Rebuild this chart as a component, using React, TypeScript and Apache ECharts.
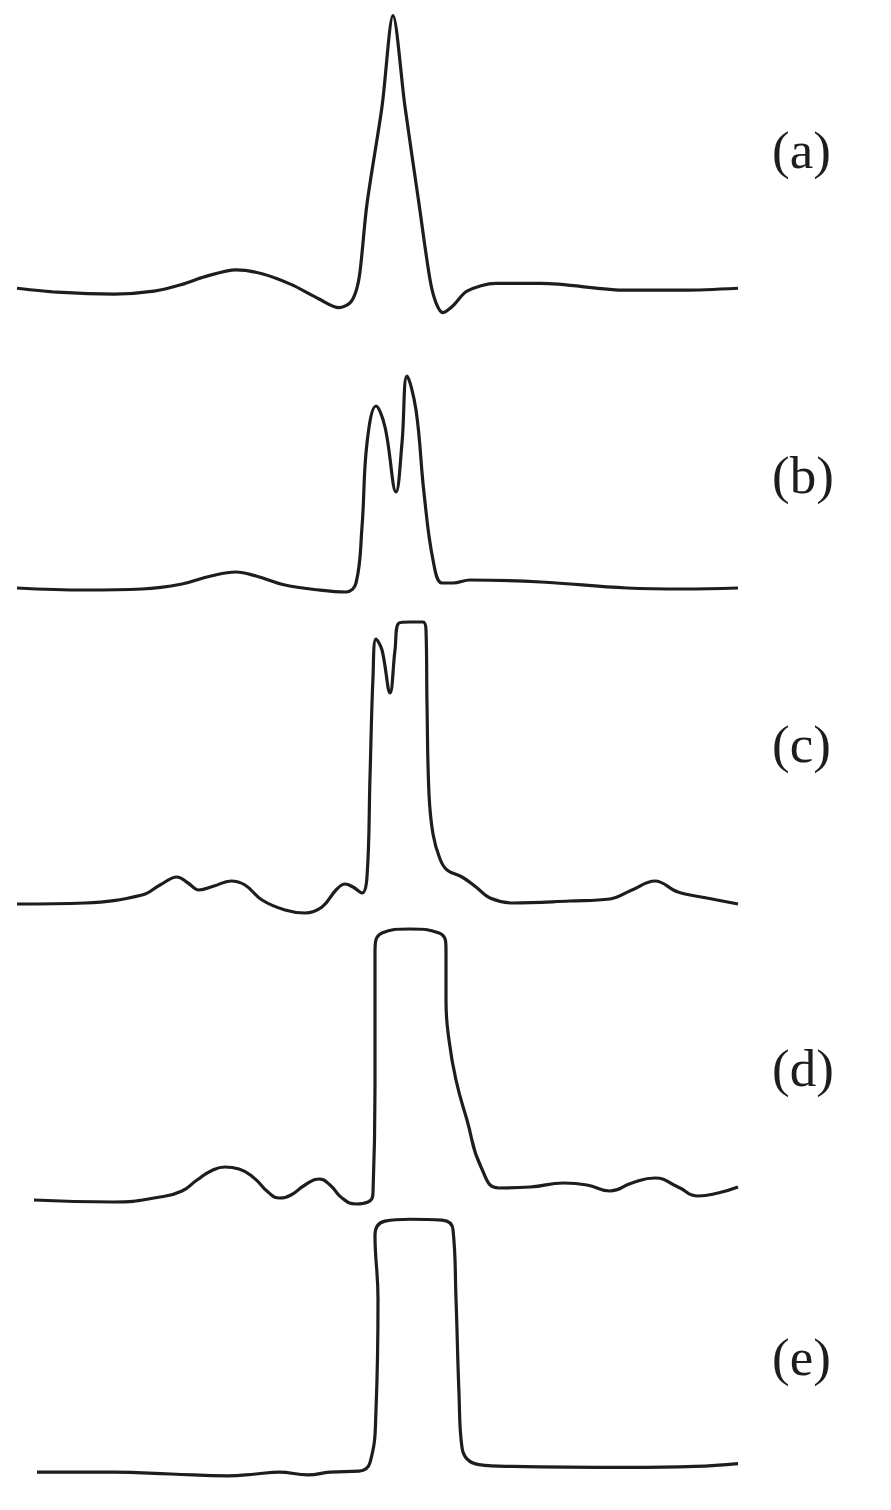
import React, { useEffect, useRef } from "react";
import * as echarts from "echarts";

// Each trace: [x position, amplitude above its own baseline]
const traceA: number[][] = [
  [17, 3], [57, -1], [114, -3], [154, 0], [182, 7], [205, 15], [236, 22], [262, 18], [291, 7],
  [319, -8], [339, -17], [350, -12], [356, 0], [360, 20], [367, 90], [382, 190], [393, 284],
  [405, 190], [419, 90], [430, 12], [436, -12], [443, -22], [453, -15], [467, 0], [496, 8],
  [541, 8], [627, 1], [684, 1], [738, 3],
];
const traceB: number[][] = [
  [17, 0], [85, -2], [142, -1], [182, 4], [211, 12], [236, 16], [256, 12], [285, 3], [319, -2],
  [346, -4], [356, 5], [362, 61], [367, 145], [376, 182], [385, 161], [396, 96], [402, 145],
  [407, 212], [416, 178], [424, 95], [433, 28], [442, 5], [453, 5], [470, 8], [541, 6],
  [627, 0], [684, -1], [738, 0],
];
const traceC: number[][] = [
  [17, 0], [85, 1], [142, 9], [160, 19], [177, 27], [188, 21], [199, 14], [214, 18], [231, 23],
  [245, 19], [262, 4], [285, -6], [305, -9], [322, -3], [336, 14], [345, 20], [353, 17],
  [362, 11], [367, 27], [370, 127], [373, 227], [376, 265], [382, 254], [390, 211], [395, 254],
  [399, 281], [410, 282], [423, 282], [426, 274], [427, 200], [429, 110], [433, 70], [440, 45],
  [447, 34], [462, 27], [476, 17], [490, 6], [513, 1], [570, 3], [610, 5], [632, 14], [655, 23],
  [678, 12], [707, 6], [738, 0],
];
const traceD: number[][] = [
  [34, 0], [114, -2], [160, 3], [182, 9], [197, 20], [211, 29], [225, 33], [239, 31], [254, 22],
  [268, 8], [279, 2], [291, 5], [305, 15], [319, 21], [330, 15], [342, 2], [356, -4], [368, -2],
  [373, 7], [375, 113], [375, 247], [382, 267], [410, 271], [439, 267], [446, 250], [446, 200],
  [449, 160], [456, 120], [467, 80], [481, 33], [499, 12], [530, 13], [564, 17], [587, 15],
  [610, 9], [632, 17], [655, 22], [678, 13], [698, 4], [718, 7], [738, 13],
];
const traceE: number[][] = [
  [37, 0], [114, 0], [171, -2], [228, -4], [256, -2], [279, 0], [308, -3], [330, 0], [359, 1],
  [370, 10], [376, 66], [378, 183], [375, 250], [385, 265], [410, 267], [442, 266], [453, 256],
  [456, 183], [459, 83], [462, 26], [479, 8], [513, 6], [627, 5], [695, 6], [738, 9],
];

const traces = [traceA, traceB, traceC, traceD, traceE];
const labels = ["(a)", "(b)", "(c)", "(d)", "(e)"];
const baselines = [290, 588, 904, 1200, 1488];
const labelY = [152, 477, 746, 1070, 1359];
const smoothness = [0.3, 0.4, 0.4, 0.5, 0.45];

const AMP_MAX = 300;
const AMP_MIN = -40;

export default function App() {
  const ref = useRef<HTMLDivElement>(null);
  useEffect(() => {
    if (!ref.current) return;
    const chart = echarts.init(ref.current, null, { renderer: "svg" });
    const grids = baselines.map((b) => ({
      left: 0,
      right: 0,
      top: b - AMP_MAX,
      height: AMP_MAX - AMP_MIN,
    }));
    const xAxes = baselines.map((_, i) => ({
      type: "value",
      gridIndex: i,
      min: 0,
      max: 891,
      show: false,
    }));
    const yAxes = baselines.map((_, i) => ({
      type: "value",
      gridIndex: i,
      min: AMP_MIN,
      max: AMP_MAX,
      show: false,
    }));
    const series = traces.map((t, i) => ({
      type: "line",
      xAxisIndex: i,
      yAxisIndex: i,
      data: t,
      smooth: smoothness[i],
      showSymbol: false,
      symbol: "none",
      lineStyle: { color: "#1e1c1d", width: 3.2 },
    }));
    const titles = labels.map((l, i) => ({
      text: l,
      left: 767,
      top: labelY[i] - 34,
      textStyle: {
        fontFamily: "Liberation Serif",
        fontSize: 53,
        fontWeight: "normal",
        color: "#1e1c1d",
      },
    }));
    chart.setOption({
      animation: false,
      backgroundColor: "#ffffff",
      title: titles,
      grid: grids,
      xAxis: xAxes,
      yAxis: yAxes,
      series,
    });
    return () => chart.dispose();
  }, []);
  return (
    <div
      ref={ref}
      style={{ position: "absolute", left: 0, top: 0, width: 891, height: 1510 }}
    />
  );
}
